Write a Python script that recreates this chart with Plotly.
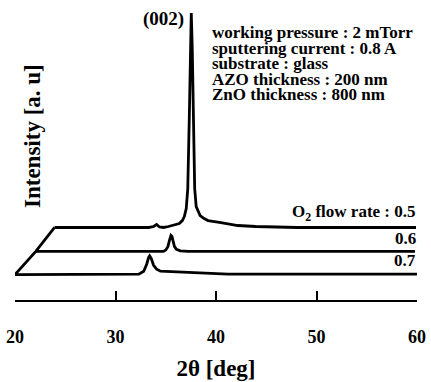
import plotly.graph_objects as go

# ---- data (2θ in degrees, intensity in arbitrary units incl. waterfall offset) ----
two_theta_05 = [23.94, 33.30, 33.79, 34.09, 34.38, 34.78, 35.27, 35.96, 36.35, 36.65, 36.85,
                37.04, 37.19, 37.34, 37.44, 37.54, 37.64, 37.73, 37.88, 38.03, 38.23, 38.42,
                38.82, 39.21, 40.49, 42.17, 43.94, 48.08, 59.90]
intensity_05 = [73, 73, 74, 76, 73.5, 73, 74, 75.5, 77, 80, 84,
                92, 112, 182, 252, 289, 252, 182, 112, 94, 89, 85,
                82, 80, 78, 75, 74, 73, 73]

two_theta_06 = [22.07, 34.78, 35.02, 35.22, 35.37, 35.52, 35.62, 35.71, 35.86, 36.06, 36.45,
                37.24, 59.80]
intensity_06 = [49, 49, 50.5, 54, 60, 65, 64, 60, 54, 51, 49.5, 49, 49]

two_theta_07 = [20.00, 32.32, 32.81, 33.10, 33.30, 33.40, 33.55, 33.79, 34.09, 34.48, 35.57,
                38.23, 41.18, 60.00]
intensity_07 = [25.5, 26, 29, 36, 43, 44.5, 42, 35, 31, 29, 28.5, 27, 26, 26]

# left edge connecting the three baselines (pseudo-3D frame)
frame_x = [20.00, 22.07, 23.94]
frame_y = [25.5, 49, 73]

flow_labels = ["O<sub>2</sub> flow rate : 0.5", "0.6", "0.7"]
flow_label_y = [88, 62, 40]

conditions = ["working pressure : 2 mTorr",
              "sputtering current : 0.8 A",
              "substrate : glass",
              "AZO thickness : 200 nm",
              "ZnO thickness : 800 nm"]
condition_y = [269.5, 253.5, 238, 222, 206.5]

x_ticks = [20, 30, 40, 50, 60]

FONT = "Liberation Serif"
LINE = dict(color="black", width=2.8)

fig = go.Figure()
for xs, ys in [(two_theta_05, intensity_05), (two_theta_06, intensity_06),
               (two_theta_07, intensity_07), (frame_x, frame_y)]:
    fig.add_trace(go.Scatter(x=xs, y=ys, mode="lines", line=LINE,
                             hoverinfo="skip", showlegend=False))

annotations = []
annotations.append(dict(x=37.04, y=283, xref="x", yref="y", text="(002)",
                        xanchor="right", yanchor="middle", showarrow=False,
                        font=dict(family=FONT, size=19, color="black", weight="bold")))
for t, yy in zip(conditions, condition_y):
    annotations.append(dict(x=39.51, y=yy, xref="x", yref="y", text=t, borderpad=0,
                            xanchor="left", yanchor="middle", showarrow=False,
                            font=dict(family=FONT, size=17, color="black", weight="bold")))
for t, yy in zip(flow_labels, flow_label_y):
    annotations.append(dict(x=59.95, y=yy, xref="x", yref="y", text=t, borderpad=0,
                            xanchor="right", yanchor="middle", showarrow=False,
                            font=dict(family=FONT, size=17, color="black", weight="bold")))
annotations.append(dict(x=0.042, y=165, xref="paper", yref="y", text="Intensity [a. u]",
                        textangle=-90, xanchor="center", yanchor="middle", showarrow=False,
                        font=dict(family=FONT, size=23, color="black", weight="bold")))

fig.update_layout(
    width=431, height=382,
    margin=dict(l=15, r=10, t=5, b=80),
    paper_bgcolor="white", plot_bgcolor="white",
    xaxis=dict(range=[20, 60], showline=True, linecolor="black", linewidth=2,
               ticks="inside", ticklen=9, tickwidth=2, tickcolor="black",
               tickvals=x_ticks, showgrid=False, zeroline=False,
               ticklabelstandoff=19,
               tickfont=dict(family=FONT, size=18, color="black", weight="bold"),
               title=dict(text="2θ [deg]", standoff=14,
                          font=dict(family=FONT, size=23, color="black", weight="bold"))),
    yaxis=dict(range=[0, 297], visible=False),
    annotations=annotations,
)
fig.write_html("out.html", config={"displayModeBar": False},
               post_script="document.body.style.margin='0';")
